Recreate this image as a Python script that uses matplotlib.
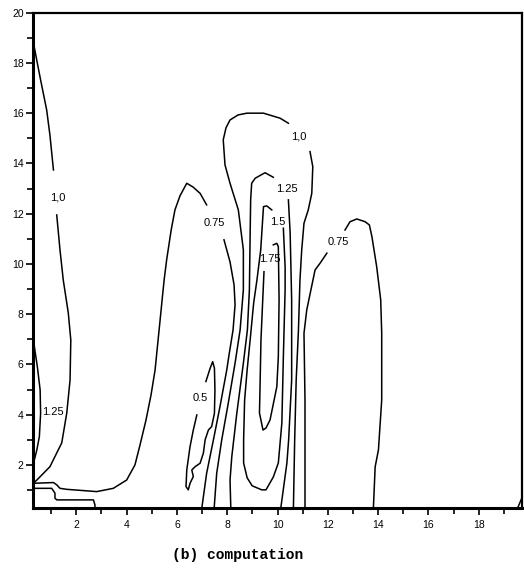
#!/usr/bin/env python

# ------------------------------------------------------------------------
# Contour map, panel (b) computation

import matplotlib
matplotlib.use("Agg")
import matplotlib.pyplot as plt
from matplotlib.ticker import MultipleLocator

# Contour polylines (x, y in plot units)

# 1.0 along the left wall (two pieces, gap for the label)
c10_left_top_x = [0.29, 0.44, 0.58, 0.82, 0.95, 1.09]
c10_left_top_y = [18.83, 18.04, 17.32, 16.13, 15.13, 13.74]
c10_left_bot_x = [1.22, 1.35, 1.48, 1.68, 1.78, 1.75, 1.62, 1.42, 0.95, 0.43, 0.29]
c10_left_bot_y = [11.95, 10.56, 9.36, 8.05, 6.97, 5.38, 4.07, 2.88, 1.93, 1.40, 1.27]

# 1.25 pocket on the left wall
c125_left_x = [0.29, 0.45, 0.56, 0.58, 0.53, 0.43, 0.33]
c125_left_y = [6.98, 5.91, 4.99, 4.06, 3.13, 2.60, 2.20]

# 0.75 hump on the left
c075_left_a_x = [0.29, 1.09, 1.22, 1.35, 1.62, 2.81, 3.47, 4.00, 4.33, 4.53, 4.77,
                 4.97, 5.13, 5.29, 5.41, 5.49, 5.59, 5.77, 5.92, 6.12, 6.39, 6.64,
                 6.92, 7.18]
c075_left_a_y = [1.27, 1.30, 1.21, 1.07, 1.03, 0.94, 1.07, 1.40, 2.00, 2.79, 3.79,
                 4.79, 5.78, 7.37, 8.57, 9.36, 10.16, 11.35, 12.15, 12.71, 13.21, 13.06,
                 12.81, 12.35]
c075_left_b_x = [7.87, 8.11, 8.27, 8.31, 8.23, 8.07, 7.98, 7.71, 7.45, 7.18, 6.99]
c075_left_b_y = [10.96, 10.08, 9.17, 8.37, 7.37, 6.38, 5.78, 4.32, 3.00, 1.67, 0.30]

# step shaped line near the bottom left corner
c_step_x = [0.29, 1.02, 1.15, 1.15, 1.22, 2.68, 2.74, 2.74]
c_step_y = [1.07, 1.07, 0.88, 0.68, 0.61, 0.61, 0.41, 0.30]

# 0.5 closed pocket
c05_x = [6.79, 6.65, 6.52, 6.39, 6.36, 6.45, 6.52, 6.65, 6.59, 6.72, 6.92, 7.05,
         7.12, 7.25, 7.38, 7.49, 7.51, 7.49, 7.42, 7.32, 7.15]
c05_y = [3.99, 3.39, 2.73, 1.80, 1.14, 1.01, 1.27, 1.54, 1.80, 1.93, 2.07, 2.47,
         3.00, 3.39, 3.53, 4.06, 4.99, 5.85, 6.11, 5.85, 5.32]

# 1.0 loop in the middle
c10_mid_a_x = [7.48, 7.58, 7.78, 8.04, 8.31, 8.51, 8.64, 8.64, 8.44, 8.11, 7.91,
               7.84, 7.95, 8.11, 8.43, 8.78, 9.44, 10.10, 10.43]
c10_mid_a_y = [0.30, 1.67, 3.00, 4.46, 6.05, 7.37, 8.97, 10.56, 12.15, 13.21, 13.94,
               14.94, 15.42, 15.73, 15.93, 16.00, 16.00, 15.80, 15.60]
c10_mid_b_x = [11.29, 11.40, 11.36, 11.22, 11.05, 10.96, 10.89, 10.83, 10.74, 10.68, 10.63]
c10_mid_b_y = [14.47, 13.87, 12.81, 12.15, 11.62, 10.56, 9.36, 7.37, 5.38, 3.00, 0.30]

# 1.25 loop
c125_mid_a_x = [8.14, 8.11, 8.18, 8.38, 8.64, 8.80, 8.88, 8.91, 8.93, 8.97, 9.11, 9.50, 9.83]
c125_mid_a_y = [0.30, 1.40, 2.33, 4.06, 6.05, 7.37, 8.97, 11.23, 12.55, 13.21, 13.41, 13.63, 13.45]
c125_mid_b_x = [10.43, 10.50, 10.56, 10.56, 10.44, 10.37, 10.13]
c125_mid_b_y = [12.55, 11.23, 8.57, 5.38, 3.00, 2.07, 0.30]

# 1.5 loop (open at the label)
c15_x = [10.23, 10.30, 10.30, 10.23, 10.17, 10.03, 9.83, 9.54, 9.37, 8.99, 8.79,
         8.65, 8.65, 8.69, 8.79, 8.91, 9.05, 9.18, 9.33, 9.44, 9.57, 9.77]
c15_y = [11.42, 9.88, 8.97, 6.30, 3.67, 2.08, 1.52, 1.01, 1.01, 1.17, 1.49,
         2.08, 3.00, 4.59, 5.78, 6.98, 8.45, 9.36, 10.56, 12.28, 12.31, 12.15]

# 1.75 loop (open at the label)
c175_x = [9.83, 9.97, 10.03, 10.06, 10.03, 9.97, 9.70, 9.54, 9.42, 9.28, 9.30,
          9.34, 9.41, 9.46]
c175_y = [10.76, 10.82, 10.69, 8.57, 6.30, 5.11, 3.79, 3.47, 3.39, 4.07, 4.99,
          6.98, 8.57, 9.69]

# 0.75 hump on the right
c075_right_a_x = [11.09, 11.09, 11.05, 11.16, 11.49, 11.69, 11.96]
c075_right_a_y = [0.30, 4.59, 7.24, 8.17, 9.76, 10.03, 10.43]
c075_right_b_x = [12.68, 12.88, 13.15, 13.48, 13.65, 13.75, 13.94, 14.10, 14.14,
                  14.14, 14.01, 13.88, 13.81]
c075_right_b_y = [11.35, 11.68, 11.79, 11.68, 11.55, 11.09, 9.89, 8.57, 7.24,
                  4.59, 2.60, 1.93, 0.30]

# tiny piece in the bottom right corner
c_corner_x = [19.55, 19.73]
c_corner_y = [0.30, 0.73]

# contour labels
lab_text = ["1,0", "1.25", "0.75", "0.5", "1,0", "1.25", "1.5", "1.75", "0.75"]
lab_x = [1.28, 1.05, 7.49, 6.92, 10.85, 10.37, 9.99, 9.70, 12.42]
lab_y = [12.64, 4.10, 11.64, 4.66, 15.07, 12.97, 11.68, 10.19, 10.89]

x_ticks = [2, 4, 6, 8, 10, 12, 14, 16, 18]
y_ticks = [2, 4, 6, 8, 10, 12, 14, 16, 18, 20]

lines = [
    (c10_left_top_x, c10_left_top_y), (c10_left_bot_x, c10_left_bot_y),
    (c125_left_x, c125_left_y),
    (c075_left_a_x, c075_left_a_y), (c075_left_b_x, c075_left_b_y),
    (c_step_x, c_step_y), (c05_x, c05_y),
    (c10_mid_a_x, c10_mid_a_y), (c10_mid_b_x, c10_mid_b_y),
    (c125_mid_a_x, c125_mid_a_y), (c125_mid_b_x, c125_mid_b_y),
    (c15_x, c15_y), (c175_x, c175_y),
    (c075_right_a_x, c075_right_a_y), (c075_right_b_x, c075_right_b_y),
    (c_corner_x, c_corner_y),
]

if __name__ == '__main__':

    fig = plt.figure(figsize=(5.24, 5.73), dpi=100)
    ax = fig.add_axes([0.0636, 0.114, 0.9332, 0.8639])

    for xx, yy in lines:
        ax.plot(xx, yy, color="black", lw=1.1, solid_joinstyle="round")

    for tt, xx, yy in zip(lab_text, lab_x, lab_y):
        ax.text(xx, yy, tt, fontsize=8, family="Liberation Sans",
                ha="center", va="center")

    ax.set_xlim(0.29, 19.73)
    ax.set_ylim(0.30, 20.0)

    ax.set_xticks(x_ticks)
    ax.set_yticks(y_ticks)
    ax.xaxis.set_minor_locator(MultipleLocator(2, offset=1))
    ax.yaxis.set_minor_locator(MultipleLocator(2, offset=1))
    ax.tick_params(which="major", direction="out", length=5, width=1.2,
                   labelsize=7.5, pad=2)
    ax.tick_params(axis="x", which="major", pad=4)
    ax.tick_params(which="minor", direction="out", length=4, width=1.2)
    for lab in ax.get_xticklabels() + ax.get_yticklabels():
        lab.set_family("Liberation Sans")

    ax.spines["left"].set_linewidth(2.2)
    ax.spines["bottom"].set_linewidth(2.2)
    ax.spines["top"].set_linewidth(1.6)
    ax.spines["right"].set_linewidth(1.6)

    fig.text(0.453, 0.031, "(b) computation", fontsize=10.5,
             family="Liberation Mono", weight="bold", ha="center", va="center")

    fig.savefig("out.png", dpi=100)

# EOF
